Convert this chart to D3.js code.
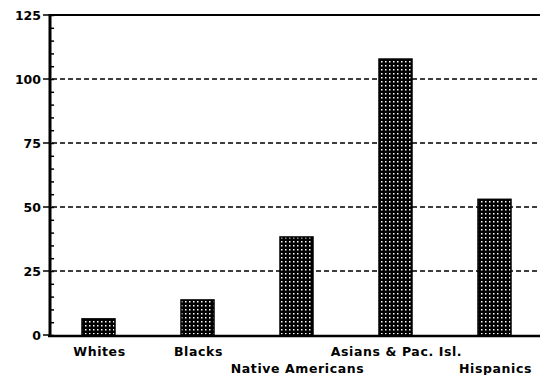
<!DOCTYPE html>
<html lang="en">
<head>
  <meta charset="utf-8">
  <title>Bar Chart</title>
  <script src="https://d3js.org/d3.v7.min.js"></script>
  <style>
    body { margin: 0; background: #fff; }
    .lbl { font-family: "DejaVu Sans", sans-serif; font-weight: bold; font-size: 12.5px; fill: #000; }
    .xlbl { letter-spacing: 0.6px; }
  </style>
</head>
<body>
<script>
  // data
  const groups = ["Whites", "Blacks", "Native Americans", "Asians & Pac. Isl.", "Hispanics"];
  const values = [6.3, 13.7, 38.3, 107.8, 53];
  const yTicks = [0, 25, 50, 75, 100, 125];

  const width = 540, height = 375;
  const svg = d3.select("body").append("svg")
    .attr("width", width)
    .attr("height", height);

  // dotted fill like the old screen pattern
  const pat = svg.append("defs").append("pattern")
    .attr("id", "dots")
    .attr("width", 4).attr("height", 4)
    .attr("patternUnits", "userSpaceOnUse");
  pat.append("rect").attr("width", 4).attr("height", 4).attr("fill", "#000");
  pat.append("rect").attr("x", 1).attr("y", 1).attr("width", 1.5).attr("height", 1.5).attr("fill", "#fff");

  const x = d3.scalePoint().domain(groups).range([49, 544]).padding(0.5);
  const y = d3.scaleLinear().domain([0, 125]).range([335, 15]);
  const barW = 33;

  // dashed grid lines
  svg.selectAll(".grid")
    .data(yTicks.filter(t => t > 0 && t < 125))
    .enter().append("line")
    .attr("x1", 52).attr("x2", width)
    .attr("y1", d => y(d)).attr("y2", d => y(d))
    .attr("stroke", "#000")
    .attr("stroke-width", 1.5)
    .attr("stroke-dasharray", "5,3");

  // top border
  svg.append("line")
    .attr("x1", 49).attr("x2", width)
    .attr("y1", y(125)).attr("y2", y(125))
    .attr("stroke", "#000").attr("stroke-width", 2);

  // bars
  svg.selectAll(".bar")
    .data(groups)
    .enter().append("rect")
    .attr("x", d => x(d) - barW / 2)
    .attr("y", (d, i) => y(values[i]))
    .attr("width", barW)
    .attr("height", (d, i) => y(0) - y(values[i]))
    .attr("fill", "url(#dots)")
    .attr("stroke", "#000")
    .attr("stroke-width", 1.5);

  // y axis with minor ticks pointing inward
  const yAxis = svg.append("g")
    .attr("transform", "translate(50,0)")
    .call(d3.axisRight(y).ticks(25).tickSize(4).tickFormat(""));
  yAxis.select(".domain").remove();
  yAxis.selectAll("line").attr("stroke", "#000").attr("stroke-width", 1.5);

  svg.append("line")
    .attr("x1", 50).attr("x2", 50)
    .attr("y1", y(125) - 1).attr("y2", y(0) + 1)
    .attr("stroke", "#000").attr("stroke-width", 3);

  svg.selectAll(".ylab")
    .data(yTicks)
    .enter().append("text")
    .attr("class", "lbl")
    .attr("x", 41)
    .attr("y", d => y(d) + 5)
    .attr("text-anchor", "end")
    .text(d => d);

  svg.selectAll(".ymaj")
    .data(yTicks)
    .enter().append("line")
    .attr("x1", 43).attr("x2", 49)
    .attr("y1", d => y(d)).attr("y2", d => y(d))
    .attr("stroke", "#000").attr("stroke-width", 1.5);

  // baseline
  svg.append("line")
    .attr("x1", 48).attr("x2", width)
    .attr("y1", y(0) + 1).attr("y2", y(0) + 1)
    .attr("stroke", "#000").attr("stroke-width", 2.5);

  // category labels, staggered: lower row for Native Americans and Hispanics
  const lowRow = ["Native Americans", "Hispanics"];
  svg.selectAll(".xlab")
    .data(groups)
    .enter().append("text")
    .attr("class", "lbl xlbl")
    .attr("x", d => x(d) + 1)
    .attr("y", d => lowRow.includes(d) ? 373 : 356)
    .attr("text-anchor", "middle")
    .text(d => d);
</script>
</body>
</html>
